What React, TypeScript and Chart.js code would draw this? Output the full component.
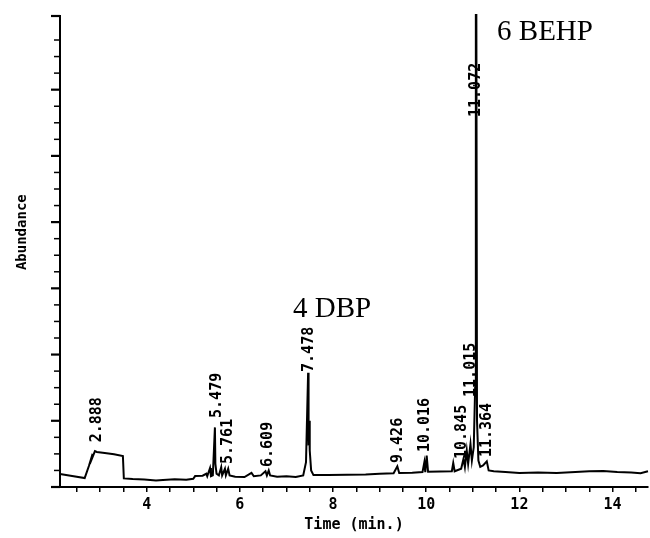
import React, { useEffect, useRef } from 'react';
import { Chart, registerables } from 'chart.js';

Chart.register(...registerables);

// Chromatogram trace: retention time (min) and abundance (arbitrary units, 1 unit = one y tick)
const retentionTimes = [
  2.14, 2.40, 2.67, 2.76, 2.84, 2.78, 2.89, 2.93, 3.10, 3.30, 3.49, 3.51,
  3.70, 3.95, 4.20, 4.35, 4.60, 4.85, 5.00, 5.04, 5.20, 5.28, 5.30, 5.36,
  5.38, 5.42, 5.465, 5.475, 5.50, 5.55, 5.60, 5.62, 5.68, 5.70, 5.75, 5.78, 5.90,
  6.10, 6.25, 6.30, 6.45, 6.55, 6.58, 6.62, 6.65, 6.80, 7.00, 7.20, 7.36,
  7.42, 7.465, 7.475, 7.485, 7.50, 7.53, 7.58, 7.90, 8.30, 8.70, 9.00, 9.30, 9.38, 9.42,
  9.70, 9.92, 9.96, 9.98, 10.01, 10.04, 10.30, 10.55, 10.58, 10.61, 10.75, 10.80,
  10.83, 10.87, 10.90, 10.95, 10.98, 11.02, 11.05, 11.062, 11.068, 11.076, 11.09, 11.12, 11.16,
  11.22, 11.30, 11.34, 11.45, 11.70, 12.00, 12.40, 12.80, 13.20, 13.50, 13.80, 14.10,
  14.40, 14.60, 14.76,
];
const abundance = [
  0.78, 0.66, 0.54, 1.27, 2.0, 1.4, 2.17, 2.12, 2.06, 1.98, 1.87, 0.52,
  0.48, 0.45, 0.40, 0.43, 0.47, 0.44, 0.50, 0.66, 0.68, 0.80, 0.65, 1.15,
  0.65, 0.70, 3.6, 1.4, 0.80, 0.70, 1.2, 0.70, 1.1, 0.70, 1.1, 0.70, 0.62,
  0.60, 0.85, 0.65, 0.70, 0.95, 0.70, 1.0, 0.70, 0.62, 0.65, 0.60, 0.70,
  1.5, 6.9, 2.5, 4.0, 2.2, 1.0, 0.72, 0.72, 0.74, 0.75, 0.80, 0.83, 1.25, 0.85,
  0.86, 0.90, 1.5, 0.90, 1.9, 0.92, 0.93, 0.95, 1.45, 0.95, 1.1, 1.7,
  1.2, 2.2, 1.4, 2.6, 1.6, 2.4, 6.0, 28.8, 8.0, 28.8, 4.0, 1.6, 1.22,
  1.3, 1.55, 1.0, 0.95, 0.90, 0.85, 0.88, 0.85, 0.90, 0.95, 0.97, 0.90,
  0.88, 0.83, 0.95,
];

// Retention-time labels printed above the peaks
const peakLabels = ['2.888', '5.479', '5.761', '6.609', '7.478', '9.426', '10.016', '10.845', '11.015', '11.072', '11.364'];
const peakLabelTimes = [2.93, 5.51, 5.74, 6.61, 7.48, 9.40, 9.98, 10.77, 10.96, 11.07, 11.31];
const peakLabelLevels = [2.7, 4.17, 1.39, 1.21, 6.95, 1.45, 2.11, 1.69, 5.44, 22.35, 1.81];

// Compound annotations
const compoundNames = ['4 DBP', '6 BEHP'];
const compoundTimes = [7.14, 11.52];
const compoundLevels = [10.27, 27.0];

// Axis tick labels
const xTickLabels = [4, 6, 8, 10, 12, 14];
const xTitle = 'Time (min.)';
const yTitle = 'Abundance';

const MONO = '"DejaVu Sans Mono", monospace';

const annotationPlugin = {
  id: 'chromAnnotations',
  afterDraw(chart: any) {
    const ctx = chart.ctx;
    const xs = chart.scales.x;
    const ys = chart.scales.y;
    const area = chart.chartArea;
    ctx.save();
    // y tick marks (major every 4)
    ctx.strokeStyle = '#000';
    ys.ticks.forEach((t: any) => {
      const py = ys.getPixelForValue(t.value);
      const major = Math.round(t.value) % 4 === 0;
      ctx.lineWidth = major ? 2.2 : 1.5;
      ctx.beginPath();
      ctx.moveTo(area.left, py);
      ctx.lineTo(area.left - (major ? 9 : 6), py);
      ctx.stroke();
    });
    // y title
    ctx.fillStyle = '#000';
    ctx.font = `bold 14px ${MONO}`;
    ctx.textAlign = 'center';
    ctx.textBaseline = 'middle';
    ctx.save();
    ctx.translate(area.left - 38, area.top + (area.bottom - area.top) * 0.459);
    ctx.rotate(-Math.PI / 2);
    ctx.fillText(yTitle, 0, 0);
    ctx.restore();
    // peak labels, rotated
    ctx.font = `bold 15px ${MONO}`;
    ctx.textAlign = 'left';
    ctx.textBaseline = 'middle';
    peakLabels.forEach((txt, i) => {
      const px = xs.getPixelForValue(peakLabelTimes[i]);
      const py = ys.getPixelForValue(peakLabelLevels[i]);
      ctx.save();
      ctx.translate(px, py);
      ctx.rotate(-Math.PI / 2);
      ctx.fillText(txt, 0, 0);
      ctx.restore();
    });
    // compound names
    ctx.font = `29px "Liberation Serif", "Times New Roman", serif`;
    ctx.textAlign = 'left';
    ctx.textBaseline = 'alphabetic';
    compoundNames.forEach((txt, i) => {
      ctx.fillText(txt, xs.getPixelForValue(compoundTimes[i]), ys.getPixelForValue(compoundLevels[i]));
    });
    ctx.restore();
  },
};

export default function App() {
  const canvasRef = useRef<HTMLCanvasElement | null>(null);

  useEffect(() => {
    if (!canvasRef.current) return;
    const points = retentionTimes.map((t, i) => ({ x: t, y: abundance[i] }));
    const chart = new Chart(canvasRef.current, {
      type: 'line',
      data: {
        datasets: [
          {
            data: points,
            borderColor: '#000',
            borderWidth: 2,
            pointRadius: 0,
            tension: 0,
            fill: false,
            clip: 2,
          },
        ],
      },
      options: {
        animation: false,
        responsive: false,
        maintainAspectRatio: false,
        layout: { padding: { top: 16, right: 2, left: 0, bottom: 0 } },
        plugins: { legend: { display: false }, tooltip: { enabled: false }, title: { display: false } },
        scales: {
          x: {
            type: 'linear',
            min: 2.14,
            max: 14.76,
            afterFit: (s: any) => {
              s.height = 51;
            },
            border: { display: true, color: '#000', width: 2 },
            grid: { display: true, drawOnChartArea: false, drawTicks: true, tickLength: 5, color: '#000', lineWidth: 1.5 },
            ticks: {
              stepSize: 0.5,
              includeBounds: false,
              autoSkip: false,
              maxRotation: 0,
              padding: 4,
              color: '#000',
              font: { family: MONO, size: 15, weight: 'bold' },
              callback: (v: any) => (xTickLabels.includes(Number(v)) ? String(v) : ''),
            },
            title: {
              display: true,
              text: xTitle,
              color: '#000',
              font: { family: MONO, size: 15, weight: 'bold' },
              padding: { top: 0, bottom: 4 },
            },
          },
          y: {
            type: 'linear',
            min: 0,
            max: 28.45,
            afterFit: (s: any) => {
              s.width = 60;
            },
            border: { display: true, color: '#000', width: 2 },
            grid: { display: false },
            ticks: { display: false, stepSize: 1 },
          },
        },
      },
      plugins: [annotationPlugin],
    });
    return () => chart.destroy();
  }, []);

  return (
    <div style={{ position: 'fixed', left: 0, top: 0, width: 650, height: 538, background: '#fff' }}>
      <canvas ref={canvasRef} width={650} height={538} style={{ display: 'block', width: 650, height: 538 }} />
    </div>
  );
}
